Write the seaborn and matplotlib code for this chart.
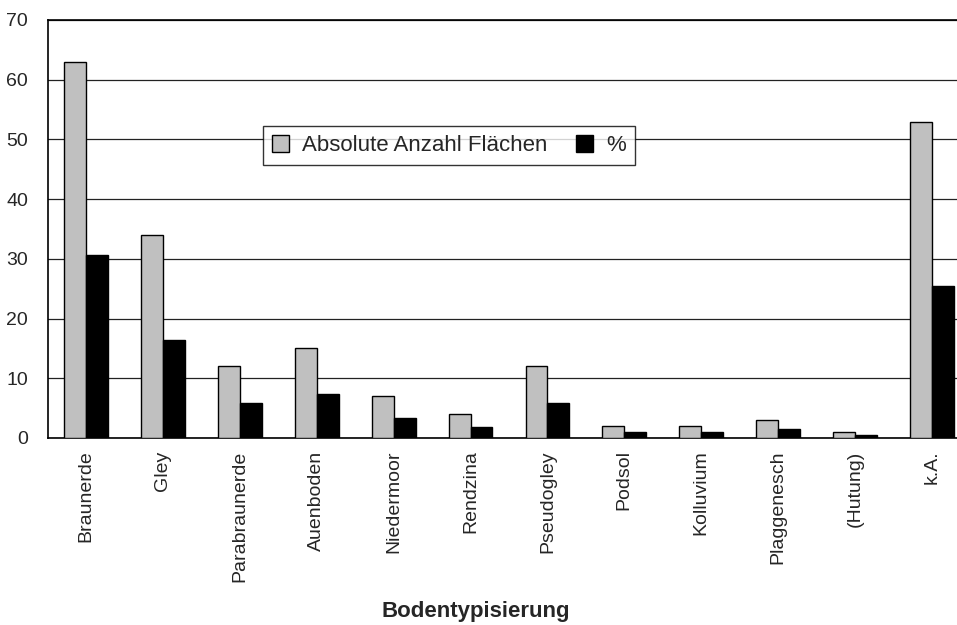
import pandas as pd
import matplotlib
matplotlib.use("Agg")
import matplotlib.pyplot as plt
import seaborn as sns

# Data
categories = ["Braunerde", "Gley", "Parabraunerde", "Auenboden", "Niedermoor",
              "Rendzina", "Pseudogley", "Podsol", "Kolluvium", "Plaggenesch",
              "(Hutung)", "k.A."]
absolute = [63, 34, 12, 15, 7, 4, 12, 2, 2, 3, 1, 53]
percent = [30.6, 16.4, 5.8, 7.3, 3.4, 1.9, 5.8, 1.0, 1.0, 1.5, 0.5, 25.4]
series_names = ["Absolute Anzahl Flächen", "%"]
y_ticks = [0, 10, 20, 30, 40, 50, 60, 70]

df = pd.DataFrame({
    "Bodentyp": categories * 2,
    "Wert": absolute + percent,
    "Serie": [series_names[0]] * len(categories) + [series_names[1]] * len(categories),
})

sns.set_style("white")
plt.rcParams["font.family"] = ["Liberation Sans", "DejaVu Sans"]

fig = plt.figure(figsize=(9.57, 6.25), dpi=100)
ax = fig.add_axes([47.5 / 957, 187 / 625, 923 / 957, 418 / 625])

sns.barplot(data=df, x="Bodentyp", y="Wert", hue="Serie", order=categories,
            hue_order=series_names, palette=["#c0c0c0", "#000000"],
            width=0.57, gap=0, edgecolor="black", linewidth=1, saturation=1,
            ax=ax, zorder=3)

ax.set_ylim(0, 70)
ax.set_xlim(-0.5, 11.5)
ax.set_yticks(y_ticks)
ax.yaxis.grid(True, color="#222222", linewidth=0.9, zorder=0)
ax.set_axisbelow(True)
for s in ax.spines.values():
    s.set_color("black")
    s.set_linewidth(1.2)

ax.tick_params(axis="y", labelsize=14, length=0, pad=14)
ax.tick_params(axis="x", labelsize=14, length=0, pad=9, labelrotation=90)
ax.set_ylabel("")
ax.set_xlabel("")
fig.text(476 / 957, 8 / 625, "Bodentypisierung", fontsize=16,
         fontweight="bold", ha="center", va="baseline")

leg = ax.legend(loc="center", bbox_to_anchor=(0.435, 0.699), ncol=2,
                fontsize=16, frameon=True, fancybox=False, edgecolor="black",
                handlelength=0.75, handleheight=0.75, columnspacing=1.3,
                handletextpad=0.6, borderpad=0.4, title=None)
leg.get_frame().set_linewidth(1)

fig.savefig("out.png", dpi=100)
